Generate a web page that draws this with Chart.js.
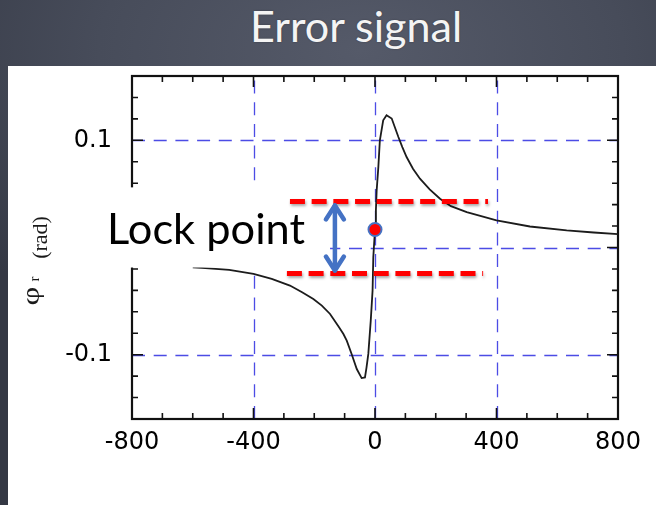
<!DOCTYPE html>
<html><head><meta charset="utf-8">
<script src="https://cdn.jsdelivr.net/npm/chart.js@4"></script>
<style>
html,body{margin:0;padding:0;width:656px;height:505px;overflow:hidden}
body{position:relative;background:radial-gradient(ellipse 80% 60% at 55% 10%, #555a69 0%, #474c5a 50%, #343844 100%);}
#panel{position:absolute;left:8px;top:66px;width:648px;height:439px;background:#ffffff}
#title{position:absolute;color:#f4f4f4;font-family:Lato,"Open Sans",sans-serif;line-height:1;white-space:nowrap;text-shadow:0 0 2px rgba(0,0,0,0.3)}
#c{position:absolute;left:0;top:0}
</style></head>
<body>
<div id="panel"></div>
<div id="title">Error signal</div>
<canvas id="c" width="656" height="505"></canvas>
<script>
// ---- data ----
const freqKHz = [-600,-570,-480,-400,-340,-280,-240,-203,-175,-148,-120,-104,-93,-77,-60,-44,-33,-28,-22,-14,-8,-5.6,0,3,5.5,11,16,27,38,55,77,90,104,125,148,180,214,250,302,400,510,631,720,800];
const phaseRad = [-0.0185,-0.019,-0.0209,-0.0246,-0.0293,-0.0355,-0.0418,-0.048,-0.0542,-0.062,-0.0738,-0.0807,-0.0869,-0.0993,-0.1134,-0.1218,-0.1212,-0.112,-0.0993,-0.0682,-0.0402,-0.0091,0.017,0.035,0.0533,0.075,0.1,0.1187,0.1234,0.1203,0.1031,0.0937,0.0844,0.0735,0.0642,0.0542,0.0455,0.0386,0.033,0.0252,0.0196,0.0159,0.0140,0.0125];
const xTickLabels = [-800,-400,0,400,800];
const yTickLabels = [-0.1,0.1];
const xGridValues = [-400,0,400];
const yGridValues = [-0.1,0,0.1];
const lockPointX = [0];
const lockPointY = [0.0168];
const bandUpperX = [-280,372];
const bandUpperY = [0.043,0.043];
const bandLowerX = [-290,356];
const bandLowerY = [-0.0243,-0.0243];
const arrowX = [-132,-132];
const arrowY = [0.0411,-0.0234];
const labelBoxX = [-910,-148];
const labelBoxY = [0.0561,-0.0187];
const labelText = 'Lock point';
const labelAnchor = [-882,0.0037];

// ---- title (HTML) ----
(function(){
  const t=document.getElementById('title');
  const m=document.createElement('canvas').getContext('2d');
  const fam='Lato, "Open Sans", sans-serif';
  m.font='40px '+fam;
  const mt=m.measureText('Error signal');
  const size=40*213/mt.width;
  m.font=size+'px '+fam;
  const mm=m.measureText('Error signal');
  const A=mm.fontBoundingBoxAscent, D=mm.fontBoundingBoxDescent;
  const top=42.3-((size-(A+D))/2+A);
  t.style.fontSize=size+'px';
  t.style.left='250px';
  t.style.top=top+'px';
})();

const pts=(xs,ys)=>xs.map((x,i)=>({x:x,y:ys[i]}));
const isMajorY=v=>yGridValues.some(g=>Math.abs(g-v)<1e-9);

const framePlugin={
  id:'frame',
  beforeDatasetsDraw(chart){
    const {ctx,chartArea:a,scales:{x,y}}=chart;
    ctx.save();
    ctx.strokeStyle='rgba(45,45,225,0.85)';
    ctx.lineWidth=1.3;
    ctx.setLineDash([13,8.7]);
    xGridValues.forEach(v=>{const p=Math.round(x.getPixelForValue(v))+0.5;ctx.beginPath();ctx.moveTo(p,a.bottom);ctx.lineTo(p,a.top);ctx.stroke();});
    yGridValues.forEach(v=>{const p=Math.round(y.getPixelForValue(v))+0.5;ctx.beginPath();ctx.moveTo(a.left,p);ctx.lineTo(a.right,p);ctx.stroke();});
    ctx.setLineDash([]);
    ctx.strokeStyle='#111';
    ctx.lineWidth=1.6;
    x.ticks.forEach(t=>{
      if(t.value<=x.min||t.value>=x.max) return;
      const len=xGridValues.includes(t.value)?11:6;
      const p=x.getPixelForValue(t.value);
      ctx.beginPath();ctx.moveTo(p,a.bottom);ctx.lineTo(p,a.bottom-len);
      ctx.moveTo(p,a.top);ctx.lineTo(p,a.top+len);ctx.stroke();
    });
    y.ticks.forEach(t=>{
      if(t.value<=y.min+1e-9||t.value>=y.max-1e-9) return;
      const len=isMajorY(t.value)?11:6;
      const p=y.getPixelForValue(t.value);
      ctx.beginPath();ctx.moveTo(a.left,p);ctx.lineTo(a.left+len,p);
      ctx.moveTo(a.right,p);ctx.lineTo(a.right-len,p);ctx.stroke();
    });
    ctx.lineWidth=2.2;
    ctx.strokeStyle='#111';
    ctx.strokeRect(a.left,a.top,a.width,a.height);
    ctx.restore();
  },
  beforeDatasetDraw(chart,args){
    if(args.index===1||args.index===2){
      const ctx=chart.ctx;
      ctx.save();
      ctx.shadowColor='rgba(0,0,0,0.35)';
      ctx.shadowBlur=3;ctx.shadowOffsetX=1;ctx.shadowOffsetY=2;
    }
  },
  afterDatasetDraw(chart,args){
    const {ctx,scales:{x,y}}=chart;
    if(args.index===1||args.index===2){ctx.restore();}
    if(args.index===3){
      ctx.save();
      const x0=x.getPixelForValue(labelBoxX[0]),x1=x.getPixelForValue(labelBoxX[1]);
      const y0=y.getPixelForValue(labelBoxY[0]),y1=y.getPixelForValue(labelBoxY[1]);
      ctx.fillStyle='#ffffff';
      ctx.fillRect(x0,y0,x1-x0,y1-y0);
      const fam='Lato, "Open Sans", sans-serif';
      ctx.font='40px '+fam;
      const w=ctx.measureText(labelText).width;
      const s=40*198/w;
      ctx.font=s+'px '+fam;
      ctx.fillStyle='#000';
      ctx.textBaseline='alphabetic';
      ctx.textAlign='left';
      ctx.fillText(labelText,x.getPixelForValue(labelAnchor[0]),y.getPixelForValue(labelAnchor[1]));
      ctx.restore();
    }
  },
  afterDatasetsDraw(chart){
    const {ctx,scales:{x,y}}=chart;
    const ax=x.getPixelForValue(arrowX[0]);
    const ya=y.getPixelForValue(arrowY[0]),yb=y.getPixelForValue(arrowY[1]);
    ctx.save();
    ctx.strokeStyle='#4472c4';
    ctx.lineWidth=4.5;
    ctx.lineCap='round';ctx.lineJoin='round';
    ctx.beginPath();ctx.moveTo(ax,ya+2);ctx.lineTo(ax,yb-2);ctx.stroke();
    ctx.beginPath();ctx.moveTo(ax-9,ya+16);ctx.lineTo(ax,ya+2);ctx.lineTo(ax+9,ya+16);ctx.stroke();
    ctx.beginPath();ctx.moveTo(ax-9,yb-16);ctx.lineTo(ax,yb-2);ctx.lineTo(ax+9,yb-16);ctx.stroke();
    ctx.restore();
  },
  afterDraw(chart){
    const ctx=chart.ctx;
    ctx.save();
    ctx.fillStyle='#1a1a1a';
    ctx.textAlign='center';ctx.textBaseline='middle';
    ctx.save();ctx.translate(32,296);ctx.rotate(-Math.PI/2);ctx.scale(1.3,1);
    ctx.font='25px "Liberation Serif", serif';ctx.fillText('φ',0,0);ctx.restore();
    ctx.save();ctx.translate(35.5,279);ctx.rotate(-Math.PI/2);
    ctx.font='15px "Liberation Serif", serif';ctx.fillText('r',0,0);ctx.restore();
    ctx.save();ctx.translate(41,237.5);ctx.rotate(-Math.PI/2);
    ctx.font='22px "Liberation Serif", serif';ctx.fillText('(rad)',0,0);ctx.restore();
    ctx.restore();
  }
};

new Chart(document.getElementById('c'),{
  type:'scatter',
  data:{datasets:[
    {label:'Lock point',data:pts(lockPointX,lockPointY),pointRadius:6.5,pointBackgroundColor:'#ff0000',pointBorderColor:'#4472c4',pointBorderWidth:2,showLine:false},
    {label:'Upper band',data:pts(bandUpperX,bandUpperY),showLine:true,borderColor:'#ff0000',borderWidth:5,borderDash:[15,6.7],pointRadius:0,borderCapStyle:'butt'},
    {label:'Lower band',data:pts(bandLowerX,bandLowerY),showLine:true,borderColor:'#ff0000',borderWidth:5,borderDash:[15,6.7],pointRadius:0,borderCapStyle:'butt'},
    {label:'φr',data:pts(freqKHz,phaseRad),showLine:true,borderColor:'#1c1c1c',borderWidth:1.8,pointRadius:0,tension:0}
  ]},
  options:{
    responsive:false,devicePixelRatio:1,animation:false,events:[],
    layout:{padding:{left:0,top:76,right:38,bottom:0}},
    plugins:{legend:{display:false},tooltip:{enabled:false},title:{display:false}},
    scales:{
      x:{type:'linear',min:-800,max:800,afterFit:s=>{s.height=86;},
        grid:{display:false,drawTicks:false},border:{display:false},
        ticks:{stepSize:100,autoSkip:false,maxRotation:0,padding:9,color:'#000',font:{family:'"DejaVu Sans"',size:24},
          callback:v=>xTickLabels.includes(v)?String(v):''}},
      y:{type:'linear',min:-0.16,max:0.16,afterFit:s=>{s.width=132;},
        grid:{display:false,drawTicks:false},border:{display:false},
        ticks:{stepSize:0.02,autoSkip:false,padding:20,color:'#000',font:{family:'"DejaVu Sans"',size:24},
          callback:v=>{const r=Math.round(v*100)/100;return yTickLabels.includes(r)?String(r):'';}}}
    }
  },
  plugins:[framePlugin]
});
</script>
</body></html>
